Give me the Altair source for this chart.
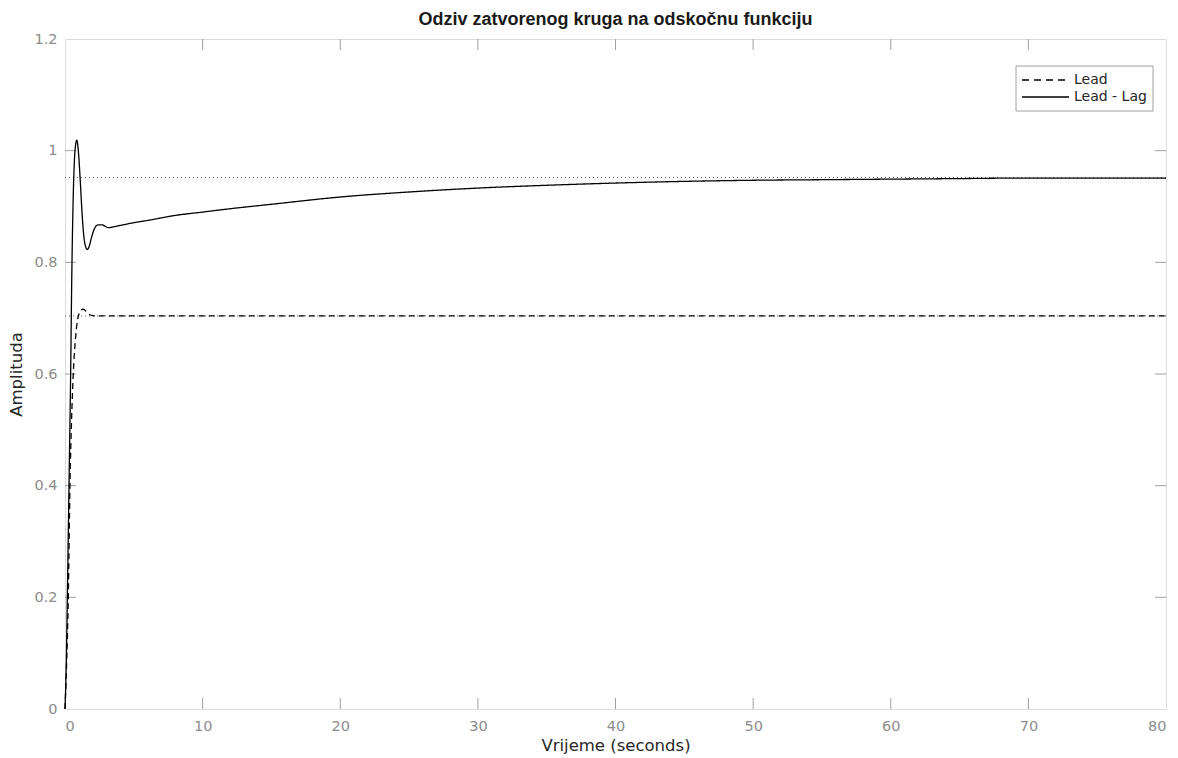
import altair as alt
import pandas as pd

# Lead - Lag step response
t_leadlag = [0, 0.1, 0.17, 0.29, 0.41, 0.49, 0.6, 0.7, 0.8, 0.85, 0.9, 1.0, 1.1, 1.2, 1.3, 1.4, 1.5, 1.62,
             1.75, 1.9, 2.1, 2.4, 2.7, 3.15, 3.6, 4, 5, 6, 8, 10, 12, 15, 20, 25, 30, 35, 40, 45, 50, 55,
             60, 65, 70, 75, 80]
y_leadlag = [0, 0.09, 0.2, 0.4, 0.6, 0.77, 0.92, 0.99, 1.015, 1.019, 1.015, 0.99, 0.95, 0.905, 0.866, 0.84,
             0.828, 0.823, 0.828, 0.842, 0.858, 0.867, 0.867, 0.862, 0.864, 0.866, 0.871, 0.875, 0.884, 0.890,
             0.896, 0.904, 0.917, 0.926, 0.933, 0.938, 0.942, 0.945, 0.947, 0.948, 0.949, 0.950, 0.951, 0.951,
             0.951]

# Lead step response
t_lead = [0, 0.1, 0.24, 0.36, 0.48, 0.6, 0.75, 0.9, 1.05, 1.2, 1.33, 1.5, 1.7, 1.94, 2.3, 3, 5, 10, 20,
          40, 60, 80]
y_lead = [0, 0.07, 0.2, 0.4, 0.52, 0.6, 0.66, 0.695, 0.71, 0.715, 0.716, 0.713, 0.708, 0.705, 0.704,
          0.704, 0.704, 0.704, 0.704, 0.704, 0.704, 0.704]

series_names = ["Lead", "Lead - Lag"]
steady_values = [0.704, 0.952]

x_ticks = [0, 10, 20, 30, 40, 50, 60, 70, 80]
y_ticks = [0, 0.2, 0.4, 0.6, 0.8, 1.0, 1.2]

W, H = 1101, 670
TICK = 11
FONT = "DejaVu Sans"
TFONT = "Liberation Sans"

df = pd.concat([
    pd.DataFrame({"t": t_lead, "y": y_lead, "series": series_names[0]}),
    pd.DataFrame({"t": t_leadlag, "y": y_leadlag, "series": series_names[1]}),
])

xscale = alt.Scale(domain=[0, 80], nice=False, zero=False)
yscale = alt.Scale(domain=[0, 1.2], nice=False, zero=False)

xaxis = alt.Axis(values=x_ticks, ticks=False, tickSize=0, domain=False, grid=False,
                 labelPadding=10, labelFontSize=14.5, labelColor="#8c8c8c", labelFont=FONT,
                 title="Vrijeme (seconds)", titleFontSize=16.5, titleFontWeight="normal",
                 titleColor="#262626", titleFont=FONT, titlePadding=5)
yaxis = alt.Axis(values=y_ticks, ticks=False, tickSize=0, domain=False, grid=False,
                 labelPadding=8, labelFontSize=14.5, labelColor="#8c8c8c", labelFont=FONT,
                 format="~g",
                 title="Amplituda", titleFontSize=16.5, titleFontWeight="normal",
                 titleColor="#262626", titleFont=FONT, titlePadding=9)

lines = alt.Chart(df).mark_line(color="black", strokeWidth=1.3, interpolate="monotone").encode(
    x=alt.X("t:Q", scale=xscale, axis=xaxis),
    y=alt.Y("y:Q", scale=yscale, axis=yaxis),
    strokeDash=alt.StrokeDash(
        "series:N",
        scale=alt.Scale(domain=series_names, range=[[6, 4], [1, 0]]),
        legend=None,
    ),
)

steady = alt.Chart(pd.DataFrame({"name": series_names, "v": steady_values})).mark_rule(
    color="#333333", strokeWidth=0.8, strokeDash=[1, 3]
).encode(y=alt.Y("v:Q", scale=yscale))

xt = pd.DataFrame({"v": x_ticks[1:-1]})
yt = pd.DataFrame({"v": y_ticks[1:-1]})
tick_color = "#a0a0a0"
xb = alt.Chart(xt).mark_rule(color=tick_color).encode(
    x=alt.X("v:Q", scale=xscale), y=alt.value(H), y2=alt.value(H - TICK))
xtop = alt.Chart(xt).mark_rule(color=tick_color).encode(
    x=alt.X("v:Q", scale=xscale), y=alt.value(0), y2=alt.value(TICK))
yl = alt.Chart(yt).mark_rule(color=tick_color).encode(
    y=alt.Y("v:Q", scale=yscale), x=alt.value(0), x2=alt.value(TICK))
yr = alt.Chart(yt).mark_rule(color=tick_color).encode(
    y=alt.Y("v:Q", scale=yscale), x=alt.value(W), x2=alt.value(W - TICK))

# manual legend (box, symbols, labels)
LX0, LX1, LY0, LY1 = 951, 1088, 27, 72
ROW1, ROW2 = 41, 58
leg_df = pd.DataFrame({"label": series_names})
leg_box = alt.Chart(leg_df.head(1)).mark_rect(fill="white", stroke="#a0a0a0", strokeWidth=1).encode(
    x=alt.value(LX0), x2=alt.value(LX1), y=alt.value(LY0), y2=alt.value(LY1))
leg_l1 = alt.Chart(leg_df.head(1)).mark_rule(color="black", strokeWidth=1.3, strokeDash=[7, 5]).encode(
    x=alt.value(957), x2=alt.value(1004), y=alt.value(ROW1))
leg_l2 = alt.Chart(leg_df.head(1)).mark_rule(color="black", strokeWidth=1.3).encode(
    x=alt.value(957), x2=alt.value(1004), y=alt.value(ROW2))
leg_t1 = alt.Chart(leg_df.iloc[[0]]).mark_text(
    align="left", baseline="middle", fontSize=14, font=FONT, color="#262626").encode(
    x=alt.value(1009), y=alt.value(ROW1), text="label:N")
leg_t2 = alt.Chart(leg_df.iloc[[1]]).mark_text(
    align="left", baseline="middle", fontSize=14, font=FONT, color="#262626").encode(
    x=alt.value(1009), y=alt.value(ROW2), text="label:N")

chart = alt.layer(steady, xb, xtop, yl, yr, lines, leg_box, leg_l1, leg_l2, leg_t1, leg_t2).properties(
    width=W, height=H,
    title=alt.TitleParams("Odziv zatvorenog kruga na odskočnu funkciju", fontSize=18, fontWeight="bold",
                          font=TFONT, color="#1a1a1a", anchor="middle", offset=2),
    autosize=alt.AutoSizeParams(type="none"),
    padding={"left": 57, "top": 31, "right": 4, "bottom": 47},
).configure_view(stroke="#a0a0a0", strokeWidth=1).configure(background="white")

chart.save("out.html", embed_options={"renderer": "svg", "actions": False})
